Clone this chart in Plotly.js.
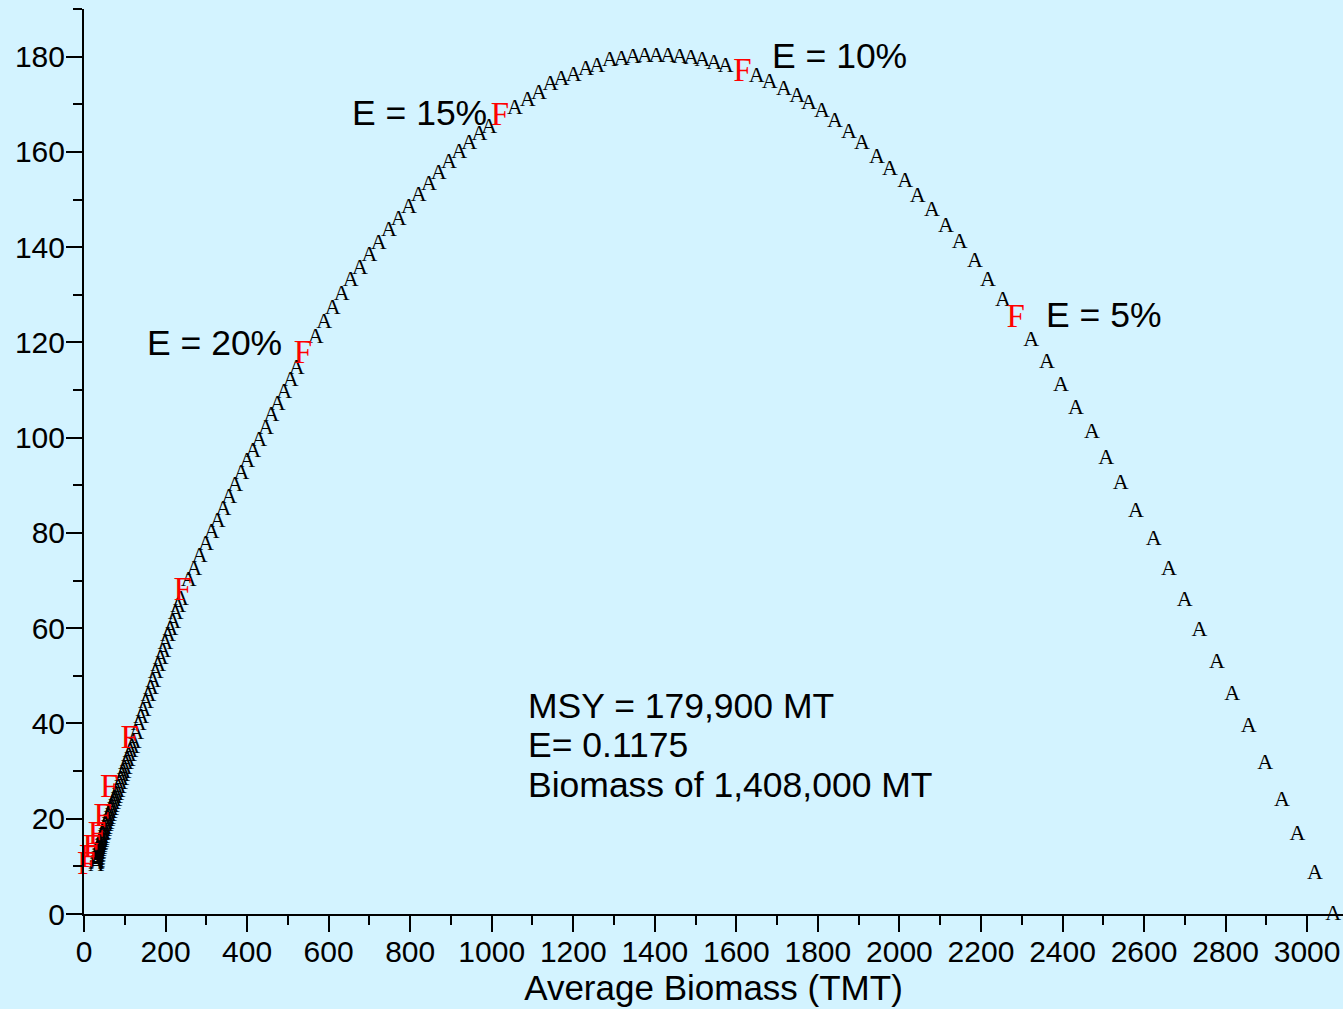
<!DOCTYPE html>
<html>
<head>
<meta charset="utf-8">
<script src="https://cdn.plot.ly/plotly-3.0.1.min.js"></script>
<style>
  html, body { margin: 0; padding: 0; background: #d3f3ff; }
  #chart { width: 1343px; height: 1009px; }
</style>
</head>
<body>
<div id="chart"></div>
<script>
// Equilibrium yield curve points ("A"), ordered by increasing exploitation rate E
const biomassA = [
  3064, 3019, 2976, 2938, 2897, 2857, 2816, 2779, 2736, 2700, 2661, 2624, 2580, 2543, 2507, 2472, 2433, 2396, 2362, 2323,
  2254, 2217, 2185, 2148, 2114, 2080, 2045, 2014, 1977, 1945, 1908, 1876, 1842, 1810, 1778, 1749, 1717, 1682, 1650,
  1574, 1546, 1517, 1489, 1462, 1433, 1404, 1376, 1347, 1319, 1290, 1259, 1231, 1201, 1171, 1144, 1116, 1088, 1057,
  994, 970, 945, 920, 895, 870, 846, 821, 797, 772, 748, 723, 700, 677, 654, 632, 610, 589, 568,
  522, 507, 491, 475, 460, 446, 430, 415, 400, 386, 371, 356, 342, 328, 313, 299, 284, 270, 257,
  238, 231, 225, 219, 212, 206, 200, 194, 188, 182, 176, 170, 164, 158, 152, 146, 140, 134, 128,
  122, 118, 114, 110, 107, 103, 100, 97, 94, 91, 88, 85,
  82, 79, 76, 74, 71, 68, 66, 63, 61, 59,
  57, 55, 53, 51, 49, 48, 46, 44,
  43, 42, 40, 39, 38, 37, 36,
  35, 34, 33.5, 33, 32.5, 32,
  31.5, 31, 30.5, 30
];
const yieldA = [
  0, 8.6, 16.6, 23.9, 31.7, 39.3, 46.0, 52.9, 59.5, 65.9, 72.4, 78.7, 84.6, 90.3, 95.7, 101.0, 106.2, 110.9, 115.7, 120.5,
  128.9, 133.1, 136.9, 140.9, 144.4, 147.6, 150.7, 153.7, 156.4, 158.9, 161.7, 164.0, 166.3, 168.4, 170.1, 171.7, 173.2, 174.6, 175.8,
  178.0, 178.6, 179.2, 179.7, 179.9, 180.0, 180.0, 180.0, 179.9, 179.5, 179.1, 178.0, 177.2, 176.1, 175.1, 174.1, 172.3, 170.7, 169.2,
  165.1, 163.6, 161.8, 159.9, 157.8, 155.5, 153.2, 150.8, 148.4, 145.9, 143.4, 140.8, 138.2, 135.6, 132.9, 130.0, 127.1, 124.1, 121.0,
  114.6, 112.1, 109.4, 106.9, 104.6, 102.0, 99.5, 97.2, 94.9, 92.4, 89.9, 87.5, 85.0, 82.5, 80.0, 77.5, 75.0, 72.4, 70.1,
  66.1, 64.5, 63.0, 61.3, 59.8, 58.4, 56.7, 55.2, 53.7, 52.1, 50.6, 48.9, 47.4, 45.8, 44.3, 42.8, 41.2, 39.7, 38.0,
  36.0, 35.0, 34.1, 33.2, 32.3, 31.5, 30.6, 29.8, 29.0, 28.2, 27.3, 26.6,
  25.8, 25.1, 24.4, 23.8, 23.1, 22.5, 21.9, 21.3, 20.7, 20.1,
  19.6, 19.0, 18.5, 18.0, 17.5, 17.0, 16.6, 16.1,
  15.7, 15.3, 14.9, 14.5, 14.1, 13.7, 13.3,
  13.0, 12.6, 12.3, 12.0, 11.7, 11.4,
  11.1, 10.8, 10.5, 10.2
];

// Points at E = 5%, 10%, 15%, ... ("F")
const biomassF = [2285, 1615, 1020, 537, 242, 112, 62, 46, 32, 19, 10, 5];
const yieldF   = [125.0, 176.7, 167.3, 117.4, 67.6, 36.5, 26.3, 20.2, 16.4, 13.6, 11.5, 10.2];

const effortLabels = ["E = 20%", "E = 15%", "E = 10%", "E = 5%"];
const effortLabelX = [149, 652, 1682, 2355];
const effortLabelY = [119.9, 168.2, 180.2, 125.8];

const msyLines = ["MSY = 179,900 MT", "E= 0.1175", "Biomass of 1,408,000 MT"];
const msyX = 1084;
const msyY = [43.7, 35.4, 27.0];

const xTitle = "Average Biomass (TMT)";

const bg = "rgb(211,243,255)";
const sans = "Liberation Sans, Arial, sans-serif";
const serif = "Liberation Serif, Times New Roman, serif";

const traces = [
  {
    x: biomassA, y: yieldA, type: "scatter", mode: "text",
    text: biomassA.map(() => "A"), textposition: "middle center",
    textfont: { family: serif, size: 22, color: "#000000" },
    cliponaxis: false, hoverinfo: "x+y", showlegend: false
  },
  {
    x: biomassF, y: yieldF, type: "scatter", mode: "text",
    text: biomassF.map(() => "F"), textposition: "middle center",
    textfont: { family: serif, size: 33, color: "#ff0000" },
    cliponaxis: false, hoverinfo: "x+y", showlegend: false
  }
];

const annotations = [];
effortLabels.forEach((t, i) => annotations.push({
  x: effortLabelX[i], y: effortLabelY[i], xref: "x", yref: "y",
  text: t, showarrow: false, xanchor: "left", yanchor: "middle",
  font: { family: sans, size: 35.5, color: "#000000" }
}));
msyLines.forEach((t, i) => annotations.push({
  x: msyX, y: msyY[i], xref: "x", yref: "y",
  text: t, showarrow: false, xanchor: "left", yanchor: "middle",
  font: { family: sans, size: 35.5, color: "#000000" }
}));

const axisCommon = {
  showline: true, linecolor: "#000000", linewidth: 2,
  ticks: "outside", ticklen: 16, tickwidth: 2, tickcolor: "#000000",
  showgrid: false, zeroline: false,
  tickfont: { family: sans, size: 30, color: "#000000" }
};

const layout = {
  width: 1343, height: 1009,
  paper_bgcolor: bg, plot_bgcolor: bg,
  margin: { l: 84, r: 0, t: 9, b: 95, pad: 0 },
  showlegend: false,
  xaxis: Object.assign({}, axisCommon, {
    range: [0, 3088], dtick: 200, tick0: 0,
    ticklabelstandoff: -6,
    minor: { dtick: 100, ticklen: 9, tickwidth: 2, tickcolor: "#000000", ticks: "outside" },
    title: { text: xTitle, font: { family: sans, size: 35, color: "#000000" }, standoff: 8 }
  }),
  yaxis: Object.assign({}, axisCommon, {
    range: [0, 190], dtick: 20, tick0: 0,
    ticklabelstandoff: -5,
    minor: { dtick: 10, ticklen: 9, tickwidth: 2, tickcolor: "#000000", ticks: "outside" }
  }),
  annotations: annotations
};

Plotly.newPlot("chart", traces, layout, { displayModeBar: false, staticPlot: true });
</script>
</body>
</html>
